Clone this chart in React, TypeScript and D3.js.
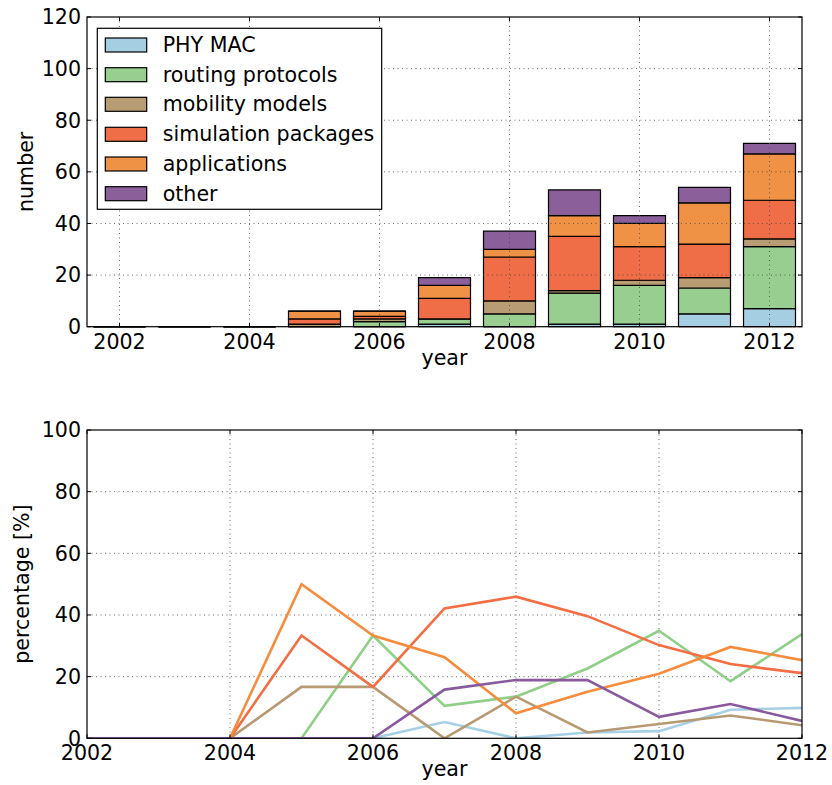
import React from "react";
import * as d3 from "d3";

const years = [2002, 2003, 2004, 2005, 2006, 2007, 2008, 2009, 2010, 2011, 2012];
const phyMac = [0, 0, 0, 0, 0, 1, 0, 1, 1, 5, 7];
const routingProtocols = [0, 0, 0, 0, 2, 2, 5, 12, 15, 10, 24];
const mobilityModels = [0, 0, 0, 1, 1, 0, 5, 1, 2, 4, 3];
const simulationPackages = [0, 0, 0, 2, 1, 8, 17, 21, 13, 13, 15];
const applications = [0, 0, 0, 3, 2, 5, 3, 8, 9, 16, 18];
const other = [0, 0, 0, 0, 0, 3, 7, 10, 3, 6, 4];

const seriesNames = ["PHY MAC", "routing protocols", "mobility models", "simulation packages", "applications", "other"];
const seriesValues = [phyMac, routingProtocols, mobilityModels, simulationPackages, applications, other];
const barColors = ["#a6cee3", "#98cf90", "#b89c74", "#f06e47", "#ef9246", "#8a5f9a"];
const lineColors = ["#a6d0e6", "#8fcf87", "#b89a72", "#f46d43", "#f68c3c", "#8a5a9e"];

const topTicksX = [2002, 2004, 2006, 2008, 2010, 2012];
const topTicksY = [0, 20, 40, 60, 80, 100, 120];
const botTicksY = [0, 20, 40, 60, 80, 100];

const FONT = "DejaVu Sans, Bitstream Vera Sans, sans-serif";
const FS = 20.6;

function Frame({ l, r, t, b, xs, ys, xTicks, yTicks }: any) {
  const tl = 4;
  return (
    <g>
      {xTicks.map((v: number) => (
        <g key={"xt" + v}>
          <line x1={xs(v)} x2={xs(v)} y1={b} y2={b - tl} stroke="#000" strokeWidth={1} />
          <line x1={xs(v)} x2={xs(v)} y1={t} y2={t + tl} stroke="#000" strokeWidth={1} />
        </g>
      ))}
      {yTicks.map((v: number) => (
        <g key={"yt" + v}>
          <line x1={l} x2={l + tl} y1={ys(v)} y2={ys(v)} stroke="#000" strokeWidth={1} />
          <line x1={r} x2={r - tl} y1={ys(v)} y2={ys(v)} stroke="#000" strokeWidth={1} />
        </g>
      ))}
      <rect x={l} y={t} width={r - l} height={b - t} fill="none" stroke="#000" strokeWidth={1.2} />
      {xTicks.map((v: number) => (
        <text key={"xl" + v} x={xs(v)} y={b + 21.8} textAnchor="middle" fontFamily={FONT} fontSize={FS}>{v}</text>
      ))}
      {yTicks.map((v: number) => (
        <text key={"yl" + v} x={l - 6} y={ys(v) + 7.3} textAnchor="end" fontFamily={FONT} fontSize={FS}>{v}</text>
      ))}
    </g>
  );
}

function Grid({ l, r, t, b, xs, ys, xTicks, yTicks }: any) {
  return (
    <g>
      {xTicks.map((v: number) => (
        <line key={"gx" + v} x1={xs(v)} x2={xs(v)} y1={t} y2={b} stroke="#444" strokeWidth={0.8} strokeDasharray="1,3.5" />
      ))}
      {yTicks.map((v: number) => (
        <line key={"gy" + v} x1={l} x2={r} y1={ys(v)} y2={ys(v)} stroke="#444" strokeWidth={0.8} strokeDasharray="1,3.5" />
      ))}
    </g>
  );
}

export default function App() {
  // Top chart
  const T = { l: 87, r: 802, t: 17, b: 326.7 };
  const xTop = d3.scaleLinear().domain([2001.5, 2012.5]).range([T.l, T.r]);
  const yTop = d3.scaleLinear().domain([0, 120]).range([T.b, T.t]);
  const table = years.map((yr, i) => {
    const o: any = { year: yr };
    seriesNames.forEach((n, k) => (o[n] = seriesValues[k][i]));
    return o;
  });
  const stacked = d3.stack().keys(seriesNames)(table);
  const barW = xTop(2002.8) - xTop(2002);

  // Bottom chart
  const B = { l: 87, r: 802, t: 430, b: 738.3 };
  const xBot = d3.scaleLinear().domain([2002, 2012]).range([B.l, B.r]);
  const yBot = d3.scaleLinear().domain([0, 100]).range([B.b, B.t]);
  const totals = years.map((_, i) => seriesValues.reduce((s, arr) => s + arr[i], 0));
  const line = d3
    .line<[number, number]>()
    .x((d) => xBot(d[0]))
    .y((d) => yBot(d[1]));

  const legendRows = [45, 74.7, 104.3, 134.3, 164, 193.7];

  return (
    <svg width={832} height={785} style={{ position: "absolute", left: 0, top: 0, background: "#fff" }}>
      <rect x={0} y={0} width={832} height={785} fill="#fff" />
      <defs>
        <clipPath id="botclip">
          <rect x={B.l} y={B.t} width={B.r - B.l} height={B.b - B.t} />
        </clipPath>
      </defs>

      {/* top bars */}
      {stacked.map((layer, k) => (
        <g key={"layer" + k}>
          {layer.map((d: any, i: number) => {
            const x0 = xTop(years[i]) - barW / 2;
            const y0 = yTop(d[1]);
            const y1 = yTop(d[0]);
            return (
              <path
                key={i}
                d={`M${x0},${y1}V${y0}H${x0 + barW}V${y1}Z`}
                fill={barColors[k]}
                stroke="#000"
                strokeWidth={1.2}
              />
            );
          })}
        </g>
      ))}
      <Grid {...T} xs={xTop} ys={yTop} xTicks={topTicksX} yTicks={[20, 40, 60, 80, 100]} />
      <Frame {...T} xs={xTop} ys={yTop} xTicks={topTicksX} yTicks={topTicksY} />
      <text x={(T.l + T.r) / 2} y={365} textAnchor="middle" fontFamily={FONT} fontSize={FS}>year</text>
      <text transform={`translate(33,${(T.t + T.b) / 2}) rotate(-90)`} textAnchor="middle" fontFamily={FONT} fontSize={FS}>number</text>

      {/* legend */}
      <rect x={97.3} y={28.3} width={284.4} height={181} fill="#fff" stroke="#000" strokeWidth={1.2} />
      {seriesNames.map((n, k) => (
        <g key={"lg" + k}>
          <rect x={105.3} y={legendRows[k] - 7} width={41.4} height={14} fill={barColors[k]} stroke="#000" strokeWidth={1.2} />
          <text x={162.7} y={legendRows[k] + 7} fontFamily={FONT} fontSize={FS}>{n}</text>
        </g>
      ))}

      {/* bottom chart */}
      <Grid {...B} xs={xBot} ys={yBot} xTicks={[2004, 2006, 2008, 2010]} yTicks={[20, 40, 60, 80]} />
      <g clipPath="url(#botclip)">
        {seriesValues.map((arr, k) => {
          const pts: [number, number][] = years.map((yr, i) => [yr, totals[i] > 0 ? (arr[i] / totals[i]) * 100 : 0]);
          return <path key={"ln" + k} d={line(pts) || ""} fill="none" stroke={lineColors[k]} strokeWidth={2.6} strokeLinejoin="miter" />;
        })}
      </g>
      <Frame {...B} xs={xBot} ys={yBot} xTicks={topTicksX} yTicks={botTicksY} />
      <text x={(B.l + B.r) / 2} y={776} textAnchor="middle" fontFamily={FONT} fontSize={FS}>year</text>
      <text transform={`translate(28.5,${(B.t + B.b) / 2}) rotate(-90)`} textAnchor="middle" fontFamily={FONT} fontSize={FS}>percentage [%]</text>
    </svg>
  );
}
